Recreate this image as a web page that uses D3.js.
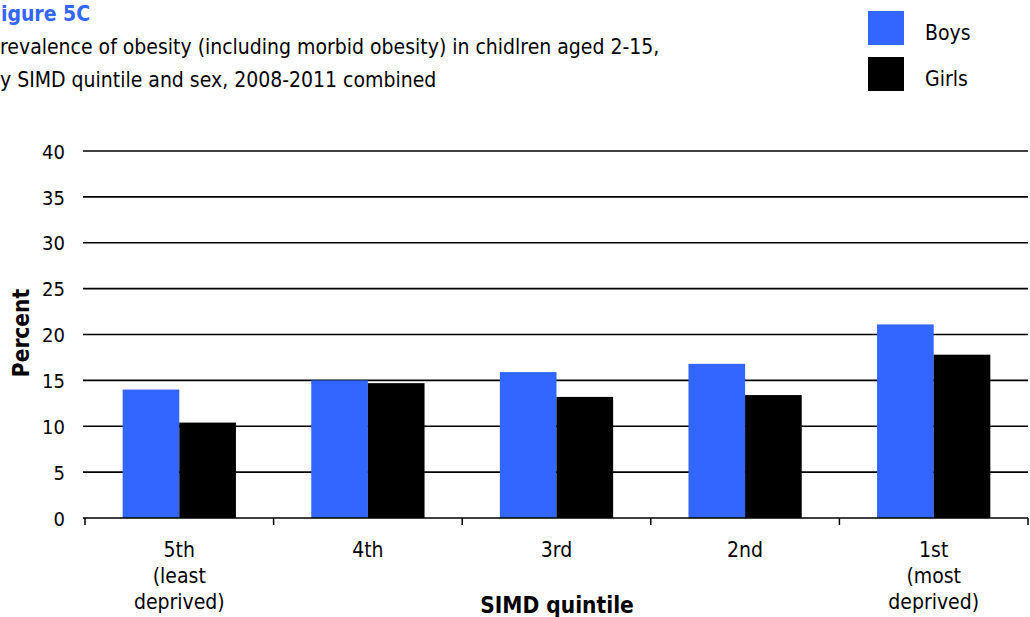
<!DOCTYPE html>
<html>
<head>
<meta charset="utf-8">
<script src="https://cdn.jsdelivr.net/npm/d3@7"></script>
<style>
  html, body { margin: 0; padding: 0; background: #fff; overflow: hidden; }
  svg { display: block; }
  text { font-family: "DejaVu Sans Condensed", "DejaVu Sans", sans-serif; fill: #000; }
</style>
</head>
<body>
<svg id="chart" width="1030" height="617"></svg>
<script>
// SIMD quintiles, least to most deprived
const categories = ["5th", "4th", "3rd", "2nd", "1st"];
const categoryNotes = ["(least|deprived)", "", "", "", "(most|deprived)"];
const seriesNames = ["Boys", "Girls"];
const boys = [14.0, 15.0, 15.9, 16.8, 21.1];
const girls = [10.4, 14.7, 13.2, 13.4, 17.8];
const yTicks = [0, 5, 10, 15, 20, 25, 30, 35, 40];
const colors = ["#3366ff", "#000000"];

const svg = d3.select("#chart");
const plot = { left: 85, right: 1028, top: 151, bottom: 518 };
const FS = "21px";

const x0 = d3.scaleBand().domain(categories).range([plot.left, plot.right]).paddingInner(0).paddingOuter(0);
const x1 = d3.scaleBand().domain(seriesNames).range([0, x0.bandwidth()]).paddingInner(0).paddingOuter(0.665);
const y = d3.scaleLinear().domain([0, 40]).range([plot.bottom, plot.top]);

// Title block (the first letters run off the left edge)
const title = svg.append("g");
title.append("text").attr("x", -12).attr("y", 21)
  .style("font-weight", "bold").style("font-size", FS).style("fill", "#3366ff")
  .text("Figure 5C");
title.append("text").attr("x", -11).attr("y", 54).style("font-size", FS)
  .text("Prevalence of obesity (including morbid obesity) in chidlren aged 2-15,");
title.append("text").attr("x", -12).attr("y", 87).style("font-size", FS)
  .text("by SIMD quintile and sex, 2008-2011 combined");

// Y axis labels
const yAxis = d3.axisLeft(y).tickValues(yTicks).tickSize(0).tickPadding(20);
const yg = svg.append("g").attr("transform", `translate(${plot.left},0)`).call(yAxis);
yg.select(".domain").remove();
yg.selectAll("text").style("font-size", "20px").attr("dy", "0.36em")
  .style("font-family", "'DejaVu Sans Condensed', 'DejaVu Sans', sans-serif");

// Horizontal gridlines
svg.append("g").selectAll("line").data(yTicks.filter(d => d > 0)).join("line")
  .attr("x1", plot.left - 2).attr("x2", plot.right)
  .attr("y1", d => y(d)).attr("y2", d => y(d))
  .attr("stroke", "#000").attr("stroke-width", 1.7);

// Bars
const groups = svg.append("g").selectAll("g").data(categories).join("g")
  .attr("transform", d => `translate(${x0(d)},0)`);
groups.selectAll("rect")
  .data((d, i) => [{ s: "Boys", v: boys[i] }, { s: "Girls", v: girls[i] }])
  .join("rect")
  .attr("x", d => x1(d.s))
  .attr("width", x1.bandwidth())
  .attr("y", d => y(d.v))
  .attr("height", d => y(0) - y(d.v))
  .attr("fill", (d, i) => colors[i]);

// X axis baseline and category boundary ticks
const xAxisG = svg.append("g");
xAxisG.append("line").attr("x1", plot.left - 2).attr("x2", plot.right)
  .attr("y1", plot.bottom).attr("y2", plot.bottom).attr("stroke", "#000").attr("stroke-width", 1.7);
const boundaries = categories.map(c => x0(c)).concat([x0(categories[categories.length - 1]) + x0.bandwidth()]);
xAxisG.selectAll("line.tick").data(boundaries).join("line").attr("class", "tick")
  .attr("x1", d => d).attr("x2", d => d)
  .attr("y1", plot.bottom).attr("y2", plot.bottom + 7)
  .attr("stroke", "#000").attr("stroke-width", 1.5);

// Category labels
categories.forEach((c, i) => {
  const cx = x0(c) + x0.bandwidth() / 2;
  const lines = [c].concat(categoryNotes[i] ? categoryNotes[i].split("|") : []);
  lines.forEach((t, j) => {
    svg.append("text").attr("x", cx).attr("y", 557 + j * 26)
      .attr("text-anchor", "middle").style("font-size", FS).text(t);
  });
});

// Axis titles
svg.append("text").attr("x", 557).attr("y", 613)
  .attr("text-anchor", "middle").style("font-size", "22.5px").style("font-weight", "bold")
  .text("SIMD quintile");
svg.append("text").attr("transform", "translate(29,333) rotate(-90)")
  .attr("text-anchor", "middle").style("font-size", "22.5px").style("font-weight", "bold")
  .text("Percent");

// Legend
const legend = svg.append("g").selectAll("g").data(seriesNames).join("g")
  .attr("transform", (d, i) => `translate(868,${11 + i * 46})`);
legend.append("rect").attr("width", 36).attr("height", 34)
  .attr("fill", (d, i) => colors[i]);
legend.append("text").attr("x", 57).attr("y", 29).style("font-size", FS).text(d => d);
</script>
</body>
</html>
